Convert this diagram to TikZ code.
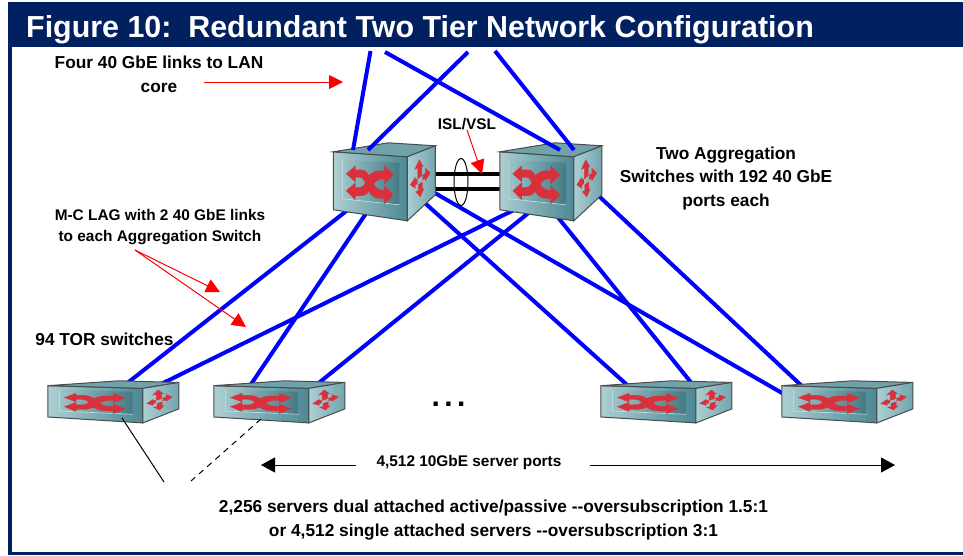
\documentclass[tikz,border=0pt]{standalone}
\usepackage{fontspec}
\setmainfont{Liberation Sans}
\usetikzlibrary{positioning,arrows.meta,shapes.geometric}
\definecolor{navyband}{RGB}{0,32,96}
\definecolor{boxlight}{RGB}{172,207,210}
\definecolor{boxdark}{RGB}{76,136,148}
\definecolor{boxtop}{RGB}{112,162,168}
\definecolor{boxedge}{RGB}{72,76,78}
\definecolor{crossred}{RGB}{218,48,60}

\begin{document}
\begin{tikzpicture}[x=1pt,y=-1pt,
    link/.style={draw=blue, line width=4pt},
    isl/.style={draw=black, line width=4pt},
    redarrow/.style={draw=red, line width=1pt, -{Triangle[length=14pt,width=14pt]}},
    blackarrow/.style={draw=black, line width=1pt, -{Triangle[length=14pt,width=15pt]}},
    label/.style={font=\bfseries\fontsize{15.4pt}{21pt}\selectfont, align=center, inner sep=0pt},
    biglabel/.style={font=\bfseries\fontsize{17.3pt}{23.5pt}\selectfont, align=center, inner sep=0pt},
    aggnode/.style={rectangle, inner sep=0pt, minimum width=102pt, minimum height=79pt},
    tornode/.style={rectangle, inner sep=0pt, minimum width=131pt, minimum height=42pt},
    cross/.style={fill=crossred, draw=crossred, line width=.3pt},
    switchbox/.pic={
        % front, top and side faces
        \shadedraw[left color=boxlight, right color=boxdark, draw=boxedge, line width=1pt] (0,9) -- (74,14) -- (74,78) -- (0,67) -- cycle;
        \filldraw[fill=boxtop, draw=boxedge, line width=1pt] (0,9) -- (55,0) -- (102,3) -- (74,14) -- cycle;
        \shadedraw[left color=boxlight, right color=boxdark!60!boxlight, draw=boxedge, line width=1pt] (74,14) -- (102,3) -- (102,52) -- (74,78) -- cycle;
        \shade[left color=boxlight!85!boxdark, right color=boxdark!90!black] (9,17) -- (66,20) -- (66,62) -- (9,56) -- cycle;
        \draw[boxlight!60!white, line width=.6pt] (9,17) -- (9,56) -- (66,62);
        % crossing arrows on the front
        \filldraw[cross] (13,31) -- (22,23) -- (22,27) -- (28,27) .. controls (38,27) and (38,47.5) .. (49,47.5) -- (51,47.5) -- (51,43) -- (60,52) -- (51,61) -- (51,55.5) -- (46,55.5) .. controls (32,55.5) and (34,34.5) .. (27,34.5) -- (22,34.5) -- (22,39) -- cycle;
        \filldraw[cross] (13,48) -- (22,40) -- (22,44.5) -- (27,44.5) .. controls (34,44.5) and (32,28) .. (46,28) -- (51,28) -- (51,23) -- (60,32) -- (51,41) -- (51,36) -- (49,36) .. controls (38,36) and (38,53) .. (28,53) -- (22,53) -- (22,57) -- cycle;
        % four small arrows on the side
        \filldraw[cross] (86,17) -- (90,24) -- (88.5,24) -- (88.5,33) -- (84.5,36) -- (84.5,25) -- (81.5,26.5) -- cycle;
        \filldraw[cross] (87,54) -- (90.5,46) -- (89,46.5) -- (89,39) -- (85,42) -- (85,48) -- (82.5,49) -- cycle;
        \filldraw[cross] (77,42) -- (82,34.5) -- (82,37) -- (84,36) -- (84,41) -- (82,42) -- (82,45.5) -- cycle;
        \filldraw[cross] (97,30) -- (92,38) -- (92,35.5) -- (89.5,37) -- (89.5,32) -- (92,30.5) -- (92,25.5) -- cycle;
    }]

    \useasboundingbox (0,0) rectangle (963,555);
    \fill[white] (0,0) rectangle (963,555);

    % switches
    \node[aggnode] (aggL) at (384.5,182.5) {};
    \node[aggnode] (aggR) at (551,182.5) {};
    \node[tornode] (torA) at (113.5,402) {};
    \node[tornode] (torB) at (279.5,402) {};
    \node[tornode] (torC) at (666.5,402) {};
    \node[tornode] (torD) at (847.5,402) {};

    % free ends
    \coordinate (lanA) at (370.5,51);
    \coordinate (lanB) at (468,52);
    \coordinate (lanC) at (385,52);
    \coordinate (lanD) at (495,51);
    \coordinate (serverA) at (164,482);
    \coordinate (serverB) at (191,481);
    \coordinate (fourTail) at (204,82);
    \coordinate (fourTip) at (343,82);
    \coordinate (lagTail) at (135,250);
    \coordinate (lagTipA) at (220,292);
    \coordinate (lagTipB) at (246,327);
    \coordinate (islTip) at (482,174);
    \coordinate (portsLeft) at (261,465);
    \coordinate (portsRight) at (895,465);

    % links under the switches
    \draw[link] ([shift={(-30.5,22.5)}]aggL.center) -- ([shift={(10,-16)}]torA.center);
    \draw[link] ([shift={(-12.8,22.5)}]aggL.center) -- ([shift={(-31,-14)}]torB.center);
    \draw[link] ([shift={(31.5,12.5)}]aggL.center) -- ([shift={(-36,-14)}]torC.center);
    \draw[link] ([shift={(36.5,2.5)}]aggL.center) -- ([shift={(-57.5,-4.4)}]torD.center);
    \draw[link] ([shift={(-27,22.5)}]aggR.center) -- ([shift={(39.5,-14)}]torA.center);
    \draw[link] ([shift={(-12.7,22.5)}]aggR.center) -- ([shift={(33,-14)}]torB.center);
    \draw[link] ([shift={(-3,22.5)}]aggR.center) -- ([shift={(29,-14)}]torC.center);
    \draw[link] ([shift={(36,2.5)}]aggR.center) -- ([shift={(-43.5,-14)}]torD.center);
    \draw[isl] ([yshift=8.5pt]aggL.center) -- ([yshift=8.5pt]aggR.center);
    \draw[isl] ([yshift=-6pt]aggL.center) -- ([yshift=-6pt]aggR.center);

    \pic at (aggL.north west) {switchbox};
    \pic at (aggR.north west) {switchbox};
    \pic[xscale=1.285,yscale=.54] at (torA.north west) {switchbox};
    \pic[xscale=1.285,yscale=.54] at (torB.north west) {switchbox};
    \pic[xscale=1.285,yscale=.54] at (torC.north west) {switchbox};
    \pic[xscale=1.285,yscale=.54] at (torD.north west) {switchbox};

    % links to the core end on top of the switches
    \draw[link] (lanA) -- ([shift={(-31.5,-32.5)}]aggL.center);
    \draw[link] (lanB) -- ([shift={(-16.5,-32.5)}]aggL.center);
    \draw[link] (lanC) -- ([shift={(9,-32.5)}]aggR.center);
    \draw[link] (lanD) -- ([shift={(23,-32.5)}]aggR.center);

    \node[ellipse, draw=black, line width=1pt, inner sep=0pt, minimum width=14pt, minimum height=47pt] (islRing) at (461,182) {};

    % labels
    \node[biglabel] (fourLabel) at (159,74.5) {Four 40 GbE links to LAN\\core};
    \node[label] (islLabel) at (467,124) {ISL/VSL};
    \node[biglabel] (aggLabel) at (726,178.5) {Two Aggregation\\Switches with 192 40 GbE\\ports each};
    \node[label] (lagLabel) at (160,227.5) {M-C LAG with 2 40 GbE links\\to each Aggregation Switch};
    \node[biglabel] (torLabel) at (104.5,339) {94 TOR switches};
    \node[label, font=\bfseries\fontsize{30pt}{30pt}\selectfont] (dotsLabel) at (448.5,404) {.\hspace{4.5pt}.\hspace{4.5pt}.};
    \node[label] (portsLabel) at (469,462.5) {4,512 10GbE server ports};
    \node[biglabel] (serversLabel) at (493.5,520) {2,256 servers dual attached active/passive -{}-oversubscription 1.5:1\\or 4,512 single attached servers -{}-oversubscription 3:1};

    % arrows
    \draw[redarrow] (fourTail) -- (fourTip);
    \draw[redarrow] (islLabel.south) -- (islTip);
    \draw[redarrow] (lagTail) -- (lagTipA);
    \draw[redarrow] (lagTail) -- (lagTipB);
    \draw[blackarrow] ([xshift=-20pt]portsLabel.west |- portsLeft) -- (portsLeft);
    \draw[blackarrow] ([xshift=28pt]portsLabel.east |- portsRight) -- (portsRight);
    \draw[black, line width=1pt] ([shift={(8.5,16)}]torA.center) -- (serverA);
    \draw[black, line width=1pt, dash pattern=on 6pt off 5pt] ([shift={(-18.5,17)}]torB.center) -- (serverB);

    % frame and title
    \fill[navyband] (8,2) rectangle (963,47);
    \fill[navyband] (8,2) rectangle (12,555);
    \fill[navyband] (8,552) rectangle (963,555);
    \node[anchor=west, text=white, inner sep=0pt, font=\bfseries\fontsize{30.4pt}{30.4pt}\selectfont] (titleLabel) at (26,29.5) {Figure 10:\ \ Redundant Two Tier Network Configuration};

\end{tikzpicture}
\end{document}
